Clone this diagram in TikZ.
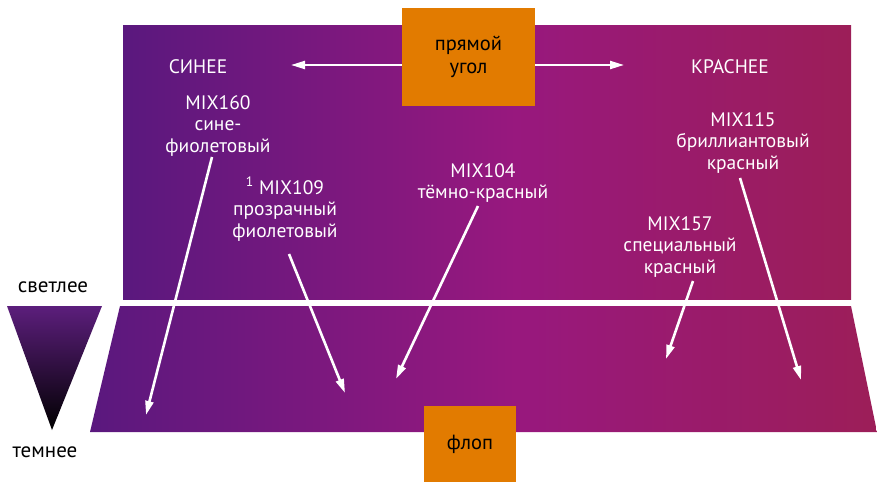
\documentclass[tikz,border=0pt]{standalone}
\usepackage{fontspec}
\setmainfont{PT Sans}
\usetikzlibrary{arrows.meta}
\definecolor{pL}{RGB}{90,24,126}
\definecolor{pM}{RGB}{152,24,126}
\definecolor{pR}{RGB}{156,30,88}
\definecolor{orng}{RGB}{226,123,0}
\definecolor{tri}{RGB}{92,30,124}
\pgfdeclarehorizontalshading{purpred}{100bp}{color(0bp)=(pL); color(25bp)=(pL); color(52bp)=(pM); color(75bp)=(pR); color(100bp)=(pR)}
\tikzset{
  lbl/.style={text=white,font=\fontsize{19.5}{21.5}\selectfont,align=center,inner sep=0pt},
  blk/.style={text=black,font=\fontsize{21}{23}\selectfont,align=center,inner sep=0pt},
  obox/.style={fill=orng,text=black,font=\fontsize{20.5}{23}\selectfont,align=center,inner sep=0pt},
  warr/.style={white,line width=2.6pt,-{Triangle[length=14pt,width=8pt]}},
  grad/.style={shading=purpred},
}
\begin{document}
\begin{tikzpicture}[x=1pt,y=-1pt]
\useasboundingbox (0,0) rectangle (877,482);
% top rectangle
\shade[grad] (123,25) rectangle (851,299);
% bottom trapezoid
\shade[grad] (120,306) -- (851,306) -- (877,432) -- (90,432) -- cycle;
% triangle
\shade[top color=tri,bottom color=black] (7,306) -- (102,306) -- (52,430) -- cycle;
\node[blk] (light) at (53,287) {светлее};
\node[blk] (dark) at (45,452) {темнее};
% orange boxes
\node[obox,minimum width=133pt,minimum height=98pt] (ugol) at (468.5,57) {прямой\\угол};
\node[obox,minimum width=92pt,minimum height=76pt] (flop) at (470,444) {флоп};
% headings
\node[lbl] (blue) at (198,67) {СИНЕЕ};
\node[lbl] (red) at (730,67) {КРАСНЕЕ};
\coordinate (lt) at (291,65);
\coordinate (rt) at (624,65);
\draw[warr,line width=2.2pt] (ugol.west |- lt) -- (lt);
\draw[warr,line width=2.2pt] (ugol.east |- rt) -- (rt);
% labels
\node[lbl,anchor=north] (m160) at (218,95) {MIX160\\сине-\\фиолетовый};
\node[lbl,anchor=north] (m109) at (285,177) {\textsuperscript{1} MIX109\\прозрачный\\фиолетовый};
\node[lbl,anchor=north] (m104) at (483,163) {MIX104\\тёмно-красный};
\node[lbl,anchor=north] (m157) at (680,216) {MIX157\\специальный\\красный};
\node[lbl,anchor=north] (m115) at (743,112) {MIX115\\бриллиантовый\\красный};
% arrows
\coordinate (s1) at (212,157); \coordinate (e1) at (146,415);
\coordinate (s2) at (289,254); \coordinate (e2) at (345,393);
\coordinate (s3) at (478,206); \coordinate (e3) at (396,379);
\coordinate (s4) at (693,281); \coordinate (e4) at (666,359);
\coordinate (s5) at (740,178); \coordinate (e5) at (801,380);
\draw[warr] (s1) -- (e1);
\draw[warr] (s2) -- (e2);
\draw[warr] (s3) -- (e3);
\draw[warr] (s4) -- (e4);
\draw[warr] (s5) -- (e5);
\end{tikzpicture}
\end{document}
